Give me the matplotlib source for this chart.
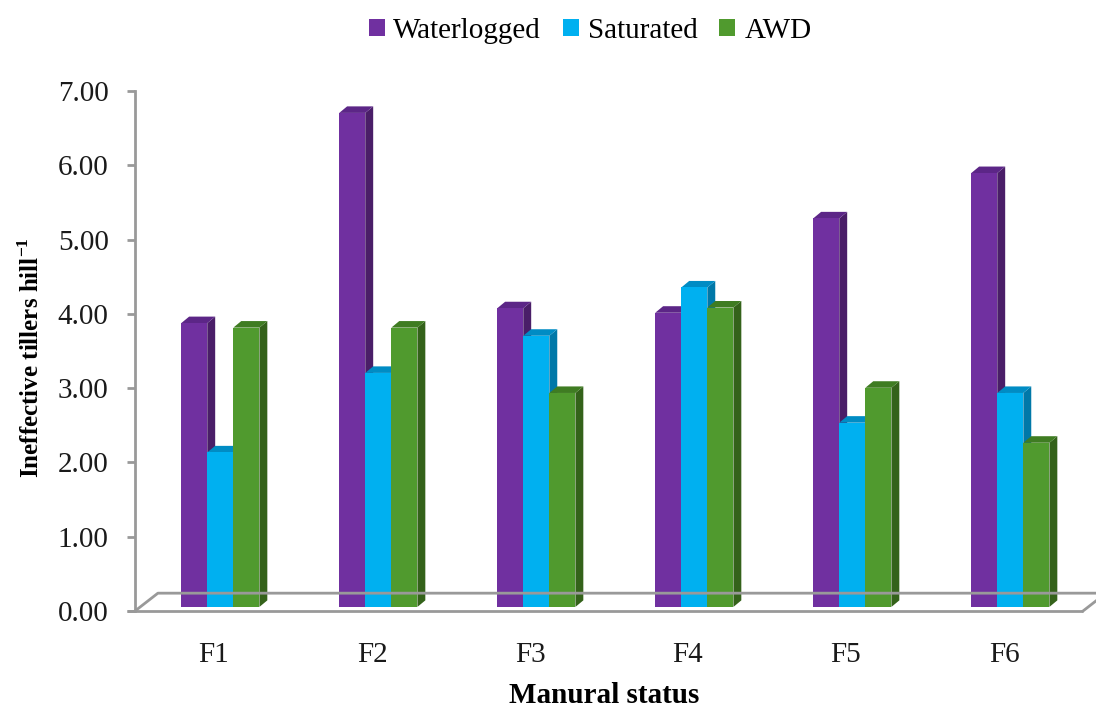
import matplotlib
matplotlib.use("Agg")
import matplotlib.pyplot as plt
from matplotlib.patches import Polygon, Rectangle, Patch

plt.rcParams['font.family'] = ['Liberation Serif', 'DejaVu Serif']
plt.rcParams['mathtext.fontset'] = 'custom'
plt.rcParams['mathtext.rm'] = 'Liberation Serif'
plt.rcParams['mathtext.bf'] = 'Liberation Serif:bold'

# ineffective tillers per hill for each manure treatment
categories = ['F1', 'F2', 'F3', 'F4', 'F5', 'F6']
waterlogged = [3.82, 6.65, 4.02, 3.96, 5.23, 5.84]
saturated = [2.08, 3.15, 3.65, 4.30, 2.48, 2.88]
awd = [3.76, 3.76, 2.88, 4.03, 2.95, 2.21]
series_names = ['Waterlogged', 'Saturated', 'AWD']
yticks = [0, 1, 2, 3, 4, 5, 6, 7]

# front / top / side shades for the fake 3d columns
shades = [
    ('#7030A0', '#5C2687', '#4A1E68'),
    ('#00B0F0', '#008CC4', '#0078A8'),
    ('#509A2E', '#3F7C22', '#34621A'),
]

fig = plt.figure(figsize=(10.96, 7.09), dpi=100)
ax = fig.add_axes([135 / 1096, 98 / 709, 948 / 1096, 520 / 709])
ax.set_xlim(0, 6)
ax.set_ylim(0, 7)

# depth of floor and columns (in data units)
floor_dx, floor_dy = 0.145, 0.24
base_dx, base_dy = 0.04, 0.055
side_dx, side_dy = 0.05, 0.088
bw = 0.165

grey = '#999999'
# floor outline
ax.plot([-0.05, 6], [0, 0], color=grey, lw=2, clip_on=False, solid_capstyle='butt')
ax.plot([0, floor_dx, 6 + floor_dx], [0, floor_dy, floor_dy], color=grey, lw=2, clip_on=False)
ax.plot([6, 6 + floor_dx], [0, floor_dy], color=grey, lw=2, clip_on=False)

all_series = [waterlogged, saturated, awd]
for i in range(len(categories)):
    x_start = i + 0.5 - 1.5 * bw + base_dx
    for j, vals in enumerate(all_series):
        v = vals[i]
        x0 = x_start + j * bw
        front, top, side = shades[j]
        ax.add_patch(Polygon([(x0 + bw, base_dy), (x0 + bw + side_dx, base_dy + side_dy),
                              (x0 + bw + side_dx, base_dy + v + side_dy), (x0 + bw, base_dy + v)],
                             closed=True, facecolor=side, edgecolor='none', clip_on=False))
        ax.add_patch(Polygon([(x0, base_dy + v), (x0 + bw, base_dy + v),
                              (x0 + bw + side_dx, base_dy + v + side_dy), (x0 + side_dx, base_dy + v + side_dy)],
                             closed=True, facecolor=top, edgecolor='none', clip_on=False))
        ax.add_patch(Rectangle((x0, base_dy), bw, v, facecolor=front, edgecolor='none', clip_on=False))

for s in ['top', 'right', 'bottom']:
    ax.spines[s].set_visible(False)
ax.spines['left'].set_color(grey)
ax.spines['left'].set_linewidth(2)

ax.set_yticks(yticks)
ax.set_yticklabels(['%.2f' % t for t in yticks])
ax.tick_params(axis='y', length=6, width=2, color=grey, pad=13, labelsize=21, labelcolor='#1a1a1a')
ax.set_xticks([i + 0.5 for i in range(len(categories))])
ax.set_xticklabels(categories)
ax.tick_params(axis='x', length=0, pad=22, labelsize=21, labelcolor='#1a1a1a')

fig.text(604 / 1096, 6 / 709, 'Manural status', fontsize=21, fontweight='bold',
         ha='center', va='baseline')
fig.text(31 / 1096, 1 - 358 / 709, r'Ineffective tillers hill$^{\mathbf{-1}}$', fontsize=18,
         fontweight='bold', rotation=90, ha='center', va='center')

handles = [Patch(facecolor=shades[k][0], edgecolor='none') for k in range(3)]
fig.legend(handles, series_names, loc='center', bbox_to_anchor=(590 / 1096, 1 - 31 / 709),
           ncol=3, frameon=False, fontsize=21, handlelength=0.55, handleheight=0.55,
           handletextpad=0.3, columnspacing=0.75)

fig.savefig('out.png', dpi=100)
